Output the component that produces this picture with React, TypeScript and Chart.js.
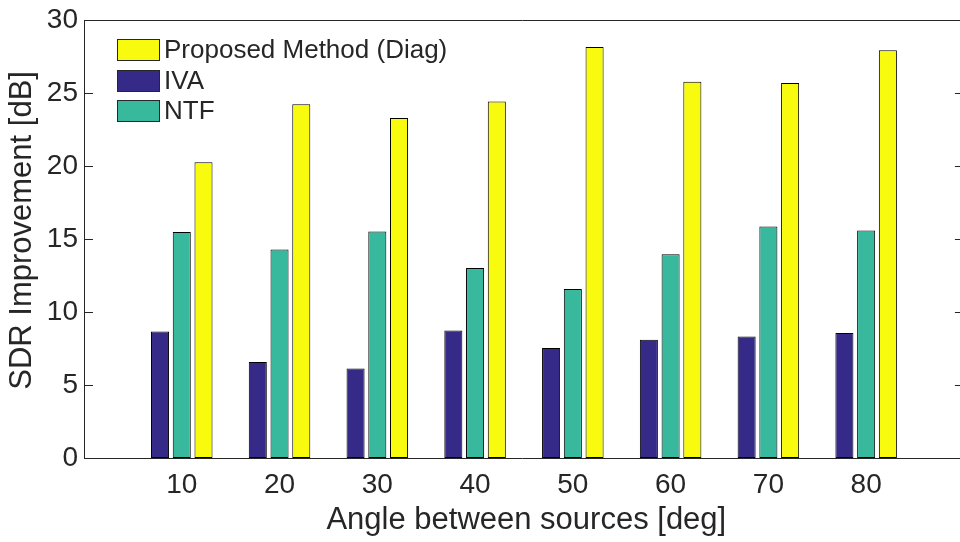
import React, { useEffect, useRef } from "react";
import { Chart, registerables } from "chart.js";

Chart.register(...registerables);

const angles = [10, 20, 30, 40, 50, 60, 70, 80];
const ivaValues = [8.67, 6.58, 6.13, 8.73, 7.53, 8.1, 8.33, 8.57];
const ntfValues = [15.48, 14.28, 15.52, 13.01, 11.58, 13.96, 15.86, 15.59];
const proposedValues = [20.25, 24.23, 23.28, 24.41, 28.15, 25.77, 25.68, 27.92];
const yTicks = [0, 5, 10, 15, 20, 25, 30];
const seriesLabels = ["IVA", "NTF", "Proposed Method (Diag)"];
const seriesColors = ["#352A87", "#38B99E", "#F9FB0E"];
const legendOrder = [2, 0, 1];
const xTitle = " Angle between sources [deg]";
const yTitle = "  SDR Improvement [dB]";

const FONT = "'Liberation Sans', Arial, Helvetica, sans-serif";
const TEXT = "#262626";

const axesPlugin = {
  id: "matlabAxes",
  beforeDatasetsDraw(chart: any) {
    const { ctx, chartArea, scales } = chart;
    const x = scales.x;
    const y = scales.y;
    const xRight = x.getPixelForValue(90);
    const top = Math.round(chartArea.top) + 0.5;
    ctx.save();
    ctx.strokeStyle = TEXT;
    ctx.lineWidth = 1;
    ctx.beginPath();
    ctx.moveTo(chartArea.left, top);
    ctx.lineTo(xRight, top);
    yTicks.forEach((v) => {
      const py = Math.round(y.getPixelForValue(v)) + 0.5;
      ctx.moveTo(chartArea.left, py);
      ctx.lineTo(chartArea.left + 9, py);
      ctx.moveTo(xRight, py);
      ctx.lineTo(xRight - 9, py);
    });
    ctx.stroke();
    ctx.restore();
  },
};

const legendPlugin = {
  id: "insetLegend",
  afterDatasetsDraw(chart: any) {
    const { ctx, chartArea } = chart;
    const left = Math.round(chartArea.left) + 33;
    const top = Math.round(chartArea.top) + 19;
    ctx.save();
    legendOrder.forEach((di, row) => {
      const ds = chart.data.datasets[di];
      const by = Math.round(top + row * 30.5);
      ctx.fillStyle = ds.backgroundColor;
      ctx.fillRect(left, by, 43, 22);
      ctx.strokeStyle = TEXT;
      ctx.lineWidth = 1;
      ctx.strokeRect(left + 0.5, by + 0.5, 42, 21);
      ctx.fillStyle = TEXT;
      ctx.font = `26px ${FONT}`;
      ctx.textBaseline = "middle";
      ctx.textAlign = "left";
      ctx.fillText(ds.label, left + 47, by + 12);
    });
    ctx.restore();
  },
};

export default function App() {
  const canvasRef = useRef<HTMLCanvasElement | null>(null);

  useEffect(() => {
    if (!canvasRef.current) return;
    const valuesList = [ivaValues, ntfValues, proposedValues];
    const chart = new Chart(canvasRef.current, {
      type: "bar",
      data: {
        datasets: valuesList.map((vals, i) => ({
          label: seriesLabels[i],
          data: angles.map((a, j) => ({ x: a, y: vals[j] })),
          backgroundColor: seriesColors[i],
          borderColor: "#000000",
          borderWidth: 1,
          borderSkipped: false,
          categoryPercentage: 0.667,
          barPercentage: 0.83,
        })),
      },
      options: {
        responsive: false,
        animation: false,
        events: [],
        layout: { padding: { top: 16, left: 0, right: 0, bottom: 0 } },
        plugins: {
          legend: { display: false },
          tooltip: { enabled: false },
          title: { display: false },
        },
        scales: {
          x: {
            type: "linear",
            min: 0,
            max: 89.6,
            offset: false,
            grid: { display: false, offset: false, drawTicks: false, tickLength: 0 },
            border: { display: true, color: TEXT, width: 1 },
            afterBuildTicks: (scale: any) => {
              scale.ticks = angles.map((v) => ({ value: v }));
            },
            afterFit: (scale: any) => {
              scale.height = 84;
            },
            ticks: {
              autoSkip: false,
              maxRotation: 0,
              padding: 13,
              color: TEXT,
              font: { family: FONT, size: 28, lineHeight: 1 },
              callback: (v: any) => String(v),
            },
            title: {
              display: true,
              text: xTitle,
              color: TEXT,
              font: { family: FONT, size: 31, lineHeight: 1.2 },
              padding: { top: 0, bottom: 3 },
            },
          },
          y: {
            min: 0,
            max: 30,
            grid: { display: false, drawTicks: false, tickLength: 0 },
            border: { display: true, color: TEXT, width: 1 },
            afterBuildTicks: (scale: any) => {
              scale.ticks = yTicks.map((v) => ({ value: v }));
            },
            afterFit: (scale: any) => {
              scale.width = 84;
            },
            ticks: {
              padding: 6,
              color: TEXT,
              font: { family: FONT, size: 28, lineHeight: 1 },
              callback: (v: any) => String(v),
            },
            title: {
              display: true,
              text: yTitle,
              color: TEXT,
              font: { family: FONT, size: 31, lineHeight: 1.2 },
              padding: { top: 4, bottom: 0 },
            },
          },
        },
      } as any,
      plugins: [axesPlugin, legendPlugin],
    });
    return () => chart.destroy();
  }, []);

  return (
    <div style={{ position: "fixed", left: 0, top: 0, width: 960, height: 542, background: "#fff" }}>
      <canvas ref={canvasRef} width={960} height={542} style={{ display: "block" }} />
    </div>
  );
}
